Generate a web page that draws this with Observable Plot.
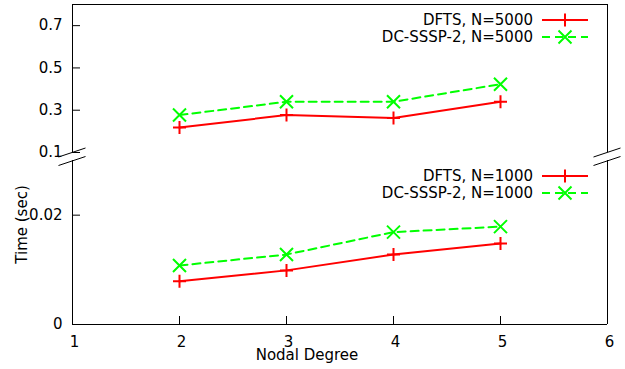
<!DOCTYPE html>
<html><head><meta charset="utf-8">
<script src="https://cdn.jsdelivr.net/npm/d3@7"></script>
<script src="https://cdn.jsdelivr.net/npm/@observablehq/plot@0.6"></script>
<style>body{margin:0;background:#fff} #chart{width:625px;height:369px}</style>
</head><body><div id="chart"></div>
<script>
// ---- data ----
const degrees = [2, 3, 4, 5];
const dfts5000 = [0.218, 0.277, 0.263, 0.340];
const dcsssp5000 = [0.277, 0.340, 0.340, 0.423];
const dfts1000 = [0.0079, 0.0099, 0.0128, 0.0148];
const dcsssp1000 = [0.0108, 0.0128, 0.0169, 0.0179];
const seriesNames = ["DFTS, N=5000", "DC-SSSP-2, N=5000", "DFTS, N=1000", "DC-SSSP-2, N=1000"];
const xTicks = [1, 2, 3, 4, 5, 6];
const yTicksTop = [0.1, 0.3, 0.5, 0.7];
const yTicksBottom = [0, 0.02];
const yBreak = [0.03, 0.1]; // bottom panel max, top panel min
const xDomain = [1, 6];
const yMax = 0.8;

// ---- styles ----
const W = 625, H = 369;
const plusSym = {draw(ctx, size){const r = Math.sqrt(size/Math.PI); ctx.moveTo(-r,0); ctx.lineTo(r,0); ctx.moveTo(0,-r); ctx.lineTo(0,r);}};
const timesSym = {draw(ctx, size){const r = Math.sqrt(size/Math.PI); ctx.moveTo(-r,-r); ctx.lineTo(r,r); ctx.moveTo(-r,r); ctx.lineTo(r,-r);}};
const styleDFTS = {color: "#ff0000", dash: null, symbol: plusSym, r: 6.5};
const styleDC = {color: "#00ff00", dash: "8,5", symbol: timesSym, r: 6.5};

const rows = vals => degrees.map((d, i) => ({x: d, y: vals[i]}));
const series = [
  {name: seriesNames[0], data: rows(dfts5000), ...styleDFTS},
  {name: seriesNames[1], data: rows(dcsssp5000), ...styleDC},
  {name: seriesNames[2], data: rows(dfts1000), ...styleDFTS},
  {name: seriesNames[3], data: rows(dcsssp1000), ...styleDC}
];

const marks = [];
// frame pieces
marks.push(Plot.ruleX([xDomain[0], xDomain[1]], {x: d => d, y1: 0, y2: yBreak[0], stroke: "black"}));
marks.push(Plot.ruleX([xDomain[0], xDomain[1]], {x: d => d, y1: yBreak[1], y2: yMax, stroke: "black"}));
marks.push(Plot.ruleY([0, yMax], {y: d => d, x1: xDomain[0], x2: xDomain[1], stroke: "black"}));
// inward ticks
marks.push(Plot.tickY([...yTicksBottom, ...yTicksTop], {y: d => d, insetRight: 527, stroke: "black"}));
marks.push(Plot.tickX(xTicks.slice(1, -1), {x: d => d, insetTop: 312, stroke: "black"}));
// tick labels
marks.push(Plot.axisY([...yTicksBottom, ...yTicksTop], {anchor: "left", tickSize: 0, tickPadding: 10, tickFormat: d => String(d), label: null}));
marks.push(Plot.axisX(xTicks, {anchor: "bottom", tickSize: 0, tickPadding: 12, dx: 2, tickFormat: d => String(d), label: null}));
// axis titles
marks.push(Plot.text(["Nodal Degree"], {text: d => d, frameAnchor: "bottom", textAnchor: "middle", lineAnchor: "middle", dx: -33, dy: 31, fill: "black"}));
marks.push(Plot.text(["Time (sec)"], {text: d => d, frameAnchor: "left", rotate: -90, textAnchor: "middle", lineAnchor: "middle", dx: -50.5, dy: 60, fill: "black"}));
// series
for (const s of series) {
  marks.push(Plot.line(s.data, {x: "x", y: "y", stroke: s.color, strokeWidth: 2, strokeDasharray: s.dash}));
  marks.push(Plot.dot(s.data, {x: "x", y: "y", symbol: s.symbol, r: s.r, stroke: s.color, strokeWidth: 2, fill: "none"}));
}

const plot = Plot.plot({
  width: W, height: H,
  marginLeft: 72, marginRight: 18, marginTop: 4, marginBottom: 45,
  style: {fontFamily: "DejaVu Sans", fontSize: "15px", color: "black", background: "white"},
  x: {domain: xDomain, axis: null},
  y: {type: "linear", domain: [0, yBreak[0], yBreak[1], yMax], range: [324, 160, 152, 4], axis: null},
  marks
});
document.getElementById("chart").appendChild(plot);

// ---- broken-axis marks and legends ----
const svg = d3.select(plot);
const xs = plot.scale("x"), ys = plot.scale("y");
const xl = xs.apply(xDomain[0]), xr = xs.apply(xDomain[1]);
const yTopEnd = ys.apply(yBreak[1]), yBotStart = ys.apply(yBreak[0]);
const g = svg.append("g");
for (const xx of [xl, xr]) {
  for (const yy of [yTopEnd + 0.5, yBotStart + 1]) {
    g.append("line").attr("x1", xx - 13.5).attr("y1", yy + 4.5).attr("x2", xx + 13.5).attr("y2", yy - 4.5)
      .attr("stroke", "black").attr("stroke-width", 1);
  }
}
const legendRows = [20, 37, 176, 193];
series.forEach((s, i) => {
  const y = legendRows[i];
  const lg = svg.append("g");
  lg.append("text").attr("x", 533).attr("y", y).attr("dy", "0.35em").attr("text-anchor", "end")
    .attr("fill", "black").text(s.name);
  lg.append("line").attr("x1", 542).attr("x2", 588).attr("y1", y).attr("y2", y)
    .attr("stroke", s.color).attr("stroke-width", 2).attr("stroke-dasharray", s.dash);
  const size = Math.PI * s.r * s.r;
  lg.append("path").attr("transform", `translate(565,${y})`).attr("d", d3.symbol(s.symbol, size)())
    .attr("stroke", s.color).attr("stroke-width", 2).attr("fill", "none");
});
</script></body></html>
